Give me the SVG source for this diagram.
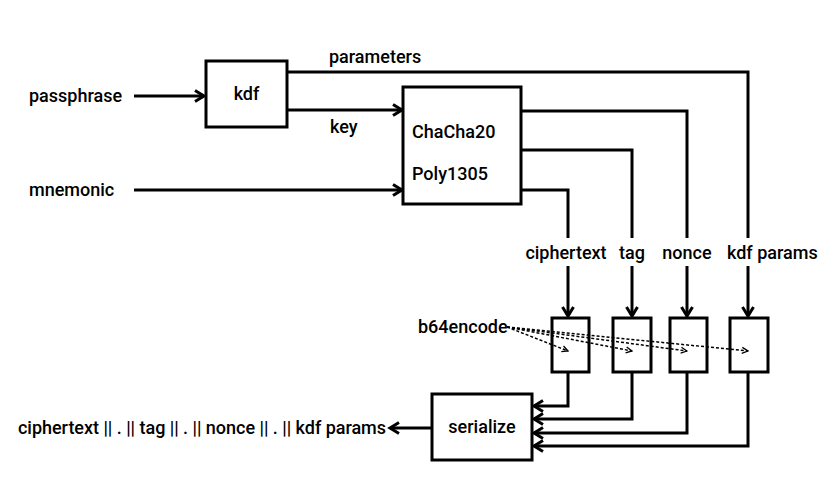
<svg xmlns="http://www.w3.org/2000/svg" width="836" height="490" viewBox="0 0 836 490">
<defs>
<style>
.t{font-family:Roboto,"Liberation Sans",Arial,sans-serif;font-weight:500;font-size:18px;fill:#000;}
.box{fill:#fff;stroke:#000;stroke-width:3;}
.ln{fill:none;stroke:#000;stroke-width:3;}
.dl{fill:none;stroke:#000;stroke-width:1.5;stroke-dasharray:3 2;}
</style>
<marker id="ah" markerUnits="userSpaceOnUse" markerWidth="14" markerHeight="14" refX="11" refY="7" orient="auto">
<path d="M2,1.5 L11,7 L2,12.5" fill="none" stroke="#000" stroke-width="3"/>
</marker>
<marker id="sh" markerUnits="userSpaceOnUse" markerWidth="8" markerHeight="8" refX="7" refY="4" orient="auto">
<path d="M1,1 L7,4 L1,7" fill="none" stroke="#000" stroke-width="1.3"/>
</marker>
</defs>
<rect width="836" height="490" fill="#fff"/>
<g id="connectors">
<line class="ln" x1="134" y1="96" x2="204" y2="96" marker-end="url(#ah)"/>
<line class="ln" x1="287" y1="110" x2="402" y2="110" marker-end="url(#ah)"/>
<line class="ln" x1="134" y1="190" x2="402" y2="190" marker-end="url(#ah)"/>
<polyline class="ln" points="287,72 748,72 748,238"/>
<polyline class="ln" points="521,111 687,111 687,238"/>
<polyline class="ln" points="521,150 632,150 632,238"/>
<polyline class="ln" points="521,190 568,190 568,238"/>
<line class="ln" x1="568" y1="266" x2="568" y2="316" marker-end="url(#ah)"/>
<line class="ln" x1="632" y1="266" x2="632" y2="316" marker-end="url(#ah)"/>
<line class="ln" x1="687" y1="266" x2="687" y2="316" marker-end="url(#ah)"/>
<line class="ln" x1="748" y1="266" x2="748" y2="316" marker-end="url(#ah)"/>
<polyline class="ln" points="568,372 568,406 534,406" marker-end="url(#ah)"/>
<polyline class="ln" points="632,372 632,419 534,419" marker-end="url(#ah)"/>
<polyline class="ln" points="687,372 687,433 534,433" marker-end="url(#ah)"/>
<polyline class="ln" points="748,372 748,446 534,446" marker-end="url(#ah)"/>
<line class="ln" x1="432" y1="428" x2="390" y2="428" marker-end="url(#ah)"/>
<line class="dl" x1="507" y1="327" x2="568" y2="351" marker-end="url(#sh)"/>
<line class="dl" x1="507" y1="327" x2="632" y2="351" marker-end="url(#sh)"/>
<line class="dl" x1="507" y1="327" x2="687" y2="351" marker-end="url(#sh)"/>
<line class="dl" x1="507" y1="327" x2="748" y2="351" marker-end="url(#sh)"/>
</g>
<g id="passphrase"><text class="t" x="29" y="102">passphrase</text></g>
<g id="mnemonic"><text class="t" x="29" y="196">mnemonic</text></g>
<g id="kdf"><rect class="box" x="206" y="61" width="81" height="66"/><text class="t" x="246.5" y="100" text-anchor="middle">kdf</text></g>
<g id="label-parameters"><text class="t" x="329" y="63">parameters</text></g>
<g id="label-key"><text class="t" x="330" y="133">key</text></g>
<g id="chacha"><rect class="box" x="403" y="87" width="118" height="117"/><text class="t" x="412" y="138">ChaCha20</text><text class="t" x="412" y="180">Poly1305</text></g>
<g id="label-ciphertext"><text class="t" x="566" y="259" text-anchor="middle">ciphertext</text></g>
<g id="label-tag"><text class="t" x="632" y="259" text-anchor="middle">tag</text></g>
<g id="label-nonce"><text class="t" x="687" y="259" text-anchor="middle">nonce</text></g>
<g id="label-kdfparams"><text class="t" x="727" y="259">kdf params</text></g>
<g id="b64encode"><text class="t" x="418" y="333">b64encode</text></g>
<g id="enc1"><rect class="box" x="552" y="318" width="37" height="54" fill-opacity="0"/></g>
<g id="enc2"><rect class="box" x="613" y="318" width="38" height="54" fill-opacity="0"/></g>
<g id="enc3"><rect class="box" x="670" y="318" width="37" height="54" fill-opacity="0"/></g>
<g id="enc4"><rect class="box" x="730" y="318" width="38" height="54" fill-opacity="0"/></g>
<g id="serialize"><rect class="box" x="432" y="394" width="100" height="66"/><text class="t" x="482" y="433" text-anchor="middle">serialize</text></g>
<g id="output"><text class="t" x="18" y="434" textLength="368" lengthAdjust="spacing">ciphertext || . || tag || . || nonce || . || kdf params</text></g>
</svg>
